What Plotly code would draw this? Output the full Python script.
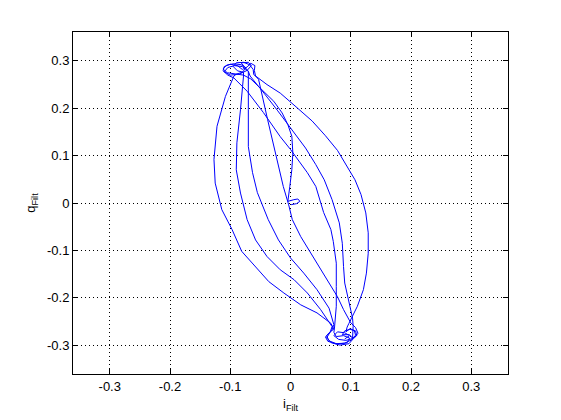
import plotly.graph_objects as go

# ---- trajectory segments (data coordinates: i_Filt, q_Filt) ----
start_x = [0.001, 0.010, 0.0156, 0.0122, 0.0056, -0.0044]
start_y = [-0.0035, -0.0014, 0.0035, 0.0085, 0.007, 0.0035]

s0_x = [-0.0011, 0.0022, 0.0039, 0.0022, -0.0044, -0.0139, -0.0278, -0.0444, -0.0583]
s0_y = [0.0352, 0.0704, 0.1056, 0.1408, 0.1655, 0.1901, 0.2148, 0.2359, 0.2521]

t1_x = [-0.066, -0.078, -0.092, -0.105, -0.112, -0.106, -0.094, -0.082, -0.074, -0.080, -0.090]
t1_y = [0.262, 0.270, 0.272, 0.275, 0.283, 0.291, 0.294, 0.292, 0.285, 0.276, 0.272]

a_x = [-0.094, -0.108, -0.122, -0.127, -0.125, -0.114, -0.097, -0.081, -0.058, -0.036, -0.011, 0.017, 0.044, 0.067]
a_y = [0.268, 0.225, 0.162, 0.092, 0.042, -0.014, -0.056, -0.102, -0.134, -0.166, -0.190, -0.215, -0.232, -0.254]

b1_x = [0.072, 0.064, 0.058, 0.062, 0.075, 0.090, 0.101, 0.108, 0.106, 0.098, 0.092, 0.094]
b1_y = [-0.266, -0.274, -0.283, -0.292, -0.297, -0.296, -0.289, -0.279, -0.270, -0.266, -0.272, -0.262]

r1_x = [0.097, 0.111, 0.121, 0.126, 0.129, 0.129, 0.125, 0.117, 0.107, 0.093, 0.078, 0.058, 0.036, 0.011, -0.017, -0.039, -0.061]
r1_y = [-0.254, -0.218, -0.183, -0.148, -0.106, -0.063, -0.021, 0.018, 0.049, 0.079, 0.111, 0.142, 0.173, 0.201, 0.232, 0.250, 0.271]

t2_x = [-0.062, -0.068, -0.078, -0.090, -0.095, -0.088, -0.078]
t2_y = [0.282, 0.292, 0.297, 0.296, 0.288, 0.279, 0.276]

bc_x = [-0.078, -0.083, -0.089, -0.090, -0.083, -0.072, -0.058, -0.039, -0.017, 0.006, 0.028, 0.050, 0.069]
bc_y = [0.268, 0.197, 0.127, 0.070, 0.021, -0.035, -0.078, -0.113, -0.141, -0.162, -0.190, -0.225, -0.261]

b2_x = [0.066, 0.060, 0.068, 0.082, 0.097, 0.104, 0.098, 0.086, 0.090, 0.100, 0.108, 0.110, 0.103, 0.104]
b2_y = [-0.272, -0.285, -0.295, -0.300, -0.297, -0.287, -0.278, -0.278, -0.270, -0.266, -0.270, -0.280, -0.285, -0.260]

ra_x = [0.103, 0.095, 0.090, 0.088, 0.086, 0.081, 0.069, 0.056, 0.042, 0.025, 0.000, -0.022, -0.044, -0.067]
ra_y = [-0.243, -0.201, -0.169, -0.134, -0.085, -0.042, 0.007, 0.049, 0.081, 0.116, 0.159, 0.196, 0.232, 0.268]

t3_x = [-0.070, -0.080, -0.093, -0.104, -0.110, -0.100, -0.085, -0.072, -0.065, -0.070, -0.082, -0.076]
t3_y = [0.278, 0.288, 0.290, 0.286, 0.277, 0.270, 0.272, 0.280, 0.290, 0.297, 0.296, 0.286]

c_x = [-0.070, -0.070, -0.070, -0.063, -0.055, -0.037, -0.020, 0.000, 0.022, 0.044, 0.064, 0.072]
c_y = [0.278, 0.197, 0.119, 0.064, 0.022, -0.035, -0.078, -0.116, -0.148, -0.183, -0.222, -0.257]

b3_x = [0.068, 0.060, 0.064, 0.078, 0.094, 0.098, 0.088, 0.076, 0.072]
b3_y = [-0.270, -0.280, -0.291, -0.298, -0.295, -0.285, -0.280, -0.282, -0.273]

rb_x = [0.073, 0.076, 0.076, 0.076, 0.071, 0.067, 0.055, 0.042, 0.028, 0.000, -0.017, -0.045, -0.072, -0.094]
rb_y = [-0.264, -0.218, -0.176, -0.127, -0.081, -0.056, -0.020, 0.035, 0.064, 0.113, 0.140, 0.191, 0.236, 0.264]

t4_x = [-0.104, -0.112, -0.110, -0.100, -0.088, -0.080, -0.072, -0.066, -0.059, -0.060, -0.058]
t4_y = [0.270, 0.279, 0.288, 0.293, 0.290, 0.282, 0.287, 0.295, 0.290, 0.280, 0.268]

d_x = [-0.053, -0.038, -0.030, -0.020, -0.012, -0.003, 0.003, 0.017, 0.033, 0.050, 0.063, 0.078, 0.088, 0.100]
d_y = [0.261, 0.176, 0.134, 0.077, 0.035, -0.004, -0.035, -0.071, -0.105, -0.141, -0.168, -0.198, -0.225, -0.253]

b4_x = [0.108, 0.112, 0.106, 0.092, 0.080, 0.072, 0.078, 0.090, 0.098, 0.090]
b4_y = [-0.263, -0.275, -0.285, -0.290, -0.288, -0.280, -0.272, -0.274, -0.280, -0.287]

tick_vals = [-0.3, -0.2, -0.1, 0, 0.1, 0.2, 0.3]
tick_text = ["-0.3", "-0.2", "-0.1", "0", "0.1", "0.2", "0.3"]

segments_x = [start_x, s0_x, t1_x, a_x, b1_x, r1_x, t2_x, bc_x, b2_x, ra_x,
              t3_x, c_x, b3_x, rb_x, t4_x, d_x, b4_x]
segments_y = [start_y, s0_y, t1_y, a_y, b1_y, r1_y, t2_y, bc_y, b2_y, ra_y,
              t3_y, c_y, b3_y, rb_y, t4_y, d_y, b4_y]

xs, ys = [], []
for sx, sy in zip(segments_x, segments_y):
    xs += sx
    ys += sy

fig = go.Figure()
fig.add_trace(go.Scatter(x=xs, y=ys, mode="lines",
                         line=dict(color="rgb(0,0,255)", width=1),
                         showlegend=False, hoverinfo="skip"))

font = dict(family="Liberation Sans, Arial, Helvetica, sans-serif", size=13, color="black")
axis_common = dict(
    tickvals=tick_vals, ticktext=tick_text,
    showgrid=True, gridcolor="black", gridwidth=1, griddash="1px,3px",
    zeroline=False, showline=True, linecolor="black", linewidth=1,
    mirror="ticks", ticks="inside", ticklen=5, tickcolor="black",
    tickfont=font,
)
# the page body has an 8px default margin, so the figure is sized to fit the window
fig.update_layout(
    width=553, height=412,
    margin=dict(l=65, r=53, t=24, b=46, autoexpand=False),
    paper_bgcolor="white", plot_bgcolor="white",
    font=font,
    xaxis=dict(range=[-0.361, 0.361], title=dict(text="i<sub>Filt</sub>", font=font, standoff=6), **axis_common),
    yaxis=dict(range=[-0.361, 0.361], title=dict(text="q<sub>Filt</sub>", font=font, standoff=8), **axis_common),
)
fig.write_html("out.html")
